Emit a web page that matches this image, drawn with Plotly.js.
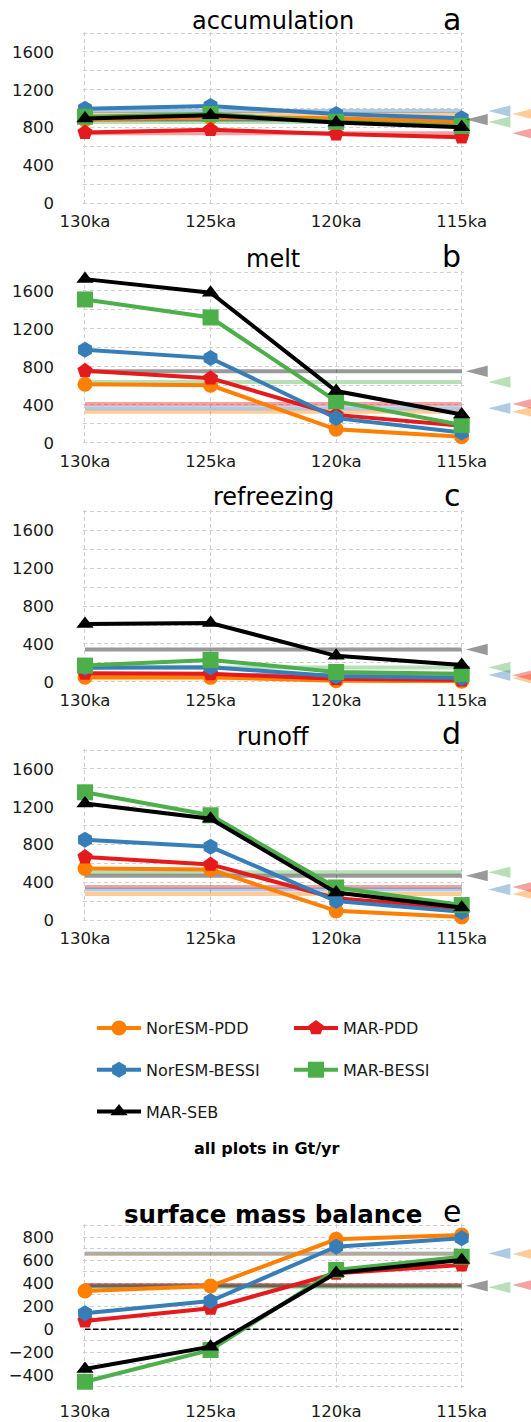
<!DOCTYPE html>
<html><head><meta charset="utf-8">
<script src="https://cdn.plot.ly/plotly-3.0.1.min.js"></script>
<style>html,body{margin:0;padding:0;background:#fff}</style>
</head><body><div id="chart" style="width:531px;height:1422px"></div>
<script>
// ---------------- data ----------------
const categories = ['130ka', '125ka', '120ka', '115ka'];
const modelNames = ['NorESM-PDD', 'MAR-PDD', 'NorESM-BESSI', 'MAR-BESSI', 'MAR-SEB'];
const panelTitles = ['accumulation', 'melt', 'refreezing', 'runoff', 'surface mass balance'];
const panelLetters = ['a', 'b', 'c', 'd', 'e'];
const unitNote = 'all plots in Gt/yr';

// rows follow modelNames order, columns follow categories
const accumulation = [
  [885, 910, 900, 855],
  [748, 779, 732, 700],
  [1000, 1028, 945, 900],
  [915, 945, 862, 818],
  [896, 932, 855, 805]
];
const accumulationRef = [945, 740, 975, 860, 885];

const melt = [
  [618, 607, 143, 64],
  [761, 682, 295, 180],
  [982, 893, 261, 110],
  [1511, 1321, 439, 189],
  [1725, 1582, 546, 300]
];
const meltRef = [328, 410, 365, 642, 755];

const refreezing = [
  [50, 48, 12, 8],
  [90, 85, 32, 20],
  [150, 155, 60, 40],
  [172, 232, 105, 85],
  [612, 622, 275, 178]
];
const refreezingRef = [38, 70, 72, 152, 342];

const runoff = [
  [548, 537, 100, 36],
  [669, 591, 233, 125],
  [852, 777, 204, 89],
  [1353, 1110, 347, 161],
  [1235, 1074, 293, 136]
];
const runoffRef = [279, 351, 326, 508, 472];

const smb = [
  [333, 376, 783, 820],
  [72, 183, 487, 559],
  [139, 246, 718, 791],
  [-456, -180, 516, 631],
  [-345, -151, 490, 603]
];
const smbRef = [655, 385, 660, 365, 378];

// ---------------- styles & layout geometry ----------------
const FONT = 'DejaVu Sans';
const W = 531, H = 1422;
const colors = ['#ff7f00', '#e41a1c', '#377eb8', '#4daf4a', '#000000'];
const refColors = ['rgba(255,127,0,0.4)', 'rgba(228,26,28,0.4)', 'rgba(55,126,184,0.4)', 'rgba(77,175,74,0.4)', 'rgba(0,0,0,0.4)'];
const symbols = ['circle', 'pentagon', 'hexagon', 'square', 'triangle-up'];
const msizes = [15, 16, 16, 16, 15];
const refMarkerSlot = [3.49, 3.49, 3.30, 3.30, 3.12]; // x position of the reference arrow heads
const legendOf = ['legend', 'legend2', 'legend', 'legend2', 'legend'];

const panelData = [accumulation, melt, refreezing, runoff, smb];
const panelRefs = [accumulationRef, meltRef, refreezingRef, runoffRef, smbRef];

// pixel geometry of each panel (top/bottom of grid) and y limits
const panelGeom = [
  {top: 33.0, bot: 203.4, ymin: 0, ymax: 1800, major: 400, minor: 200, xstand: 5, title: 21.4, letter: 19.3},
  {top: 272.0, bot: 442.9, ymin: 0, ymax: 1800, major: 400, minor: 200, xstand: 5, title: 258.9, letter: 256.8},
  {top: 511.3, bot: 681.9, ymin: 0, ymax: 1800, major: 400, minor: 200, xstand: 5, title: 496.5, letter: 495.0},
  {top: 750.0, bot: 920.3, ymin: 0, ymax: 1800, major: 400, minor: 200, xstand: 5, title: 737.4, letter: 733.5},
  {top: 1225.8, bot: 1386.8, ymin: -500, ymax: 900, major: 200, minor: 100, xstand: 11, title: 1214.6, letter: 1211.2}
];
const xLeftPx = 85, xRightPx = 461.7;
const nCat = categories.length;
const pxPerX = (xRightPx - xLeftPx) / (nCat - 1);
const xPad = 0.015;
const fx = p => p / W;
const fy = p => 1 - p / H;

const gridStyle = {showgrid: true, gridcolor: '#d0d0d0', gridwidth: 1, griddash: '4px,3px'};

const traces = [];
const layout = {
  width: W, height: H,
  margin: {l: 0, r: 0, t: 0, b: 0},
  paper_bgcolor: '#fff', plot_bgcolor: 'rgba(0,0,0,0)',
  font: {family: FONT, size: 16, color: '#1a1a1a'},
  showlegend: true,
  annotations: [],
  legend: {x: fx(92), xanchor: 'left', y: fy(1011), yanchor: 'top', orientation: 'v',
           font: {family: FONT, size: 16, color: '#1a1a1a'}, itemwidth: 44,
           traceorder: 'grouped', tracegroupgap: 18, bgcolor: 'rgba(0,0,0,0)'},
  legend2: {x: fx(289), xanchor: 'left', y: fy(1011), yanchor: 'top', orientation: 'v',
           font: {family: FONT, size: 16, color: '#1a1a1a'}, itemwidth: 44,
           traceorder: 'grouped', tracegroupgap: 18, bgcolor: 'rgba(0,0,0,0)'}
};

const xIdx = categories.map((c, i) => i);

panelGeom.forEach((g, p) => {
  const n = p + 1, t = p + 6;
  const xa = 'x' + (n === 1 ? '' : n), ya = 'y' + (n === 1 ? '' : n);
  const xt = 'x' + t, yt = 'y' + t;
  const s = (g.bot - g.top) / (g.ymax - g.ymin); // px per unit
  const yPad = 1.5 / s;
  const yDomain = [fy(g.bot + 1.5), fy(g.top - 1.5)];
  const yRange = [g.ymin - yPad, g.ymax + yPad];
  const xStartPx = xLeftPx - xPad * pxPerX;

  layout['xaxis' + (n === 1 ? '' : n)] = Object.assign({
    anchor: ya, domain: [fx(xStartPx), fx(xRightPx + xPad * pxPerX)],
    range: [-xPad, nCat - 1 + xPad], tickmode: 'array', tickvals: xIdx, ticktext: categories,
    zeroline: false, showline: false, ticks: '', ticklabelstandoff: g.xstand,
    tickfont: {family: FONT, size: 16.5, color: '#1a1a1a'}, fixedrange: true
  }, gridStyle);
  layout['yaxis' + (n === 1 ? '' : n)] = Object.assign({
    anchor: xa, domain: yDomain, range: yRange, tickmode: 'linear', tick0: 0, dtick: g.major,
    zeroline: false, showline: false, ticks: '', ticklabelstandoff: 28,
    tickfont: {family: FONT, size: 16.5, color: '#1a1a1a'}, fixedrange: true,
    minor: {tick0: 0, dtick: g.minor, showgrid: true, gridcolor: '#d0d0d0', gridwidth: 1, griddash: '4px,3px', ticks: ''}
  }, gridStyle);
  // axes for the reference arrow heads, which sit right of the plotting area
  layout['xaxis' + t] = {anchor: yt, domain: [fx(xStartPx), 1],
    range: [-xPad, -xPad + (W - xStartPx) / pxPerX], visible: false, showgrid: false, zeroline: false, fixedrange: true};
  layout['yaxis' + t] = {anchor: xt, domain: yDomain, range: yRange, visible: false, showgrid: false, zeroline: false, fixedrange: true};

  const data = panelData[p], refs = panelRefs[p];

  // reference lines
  refs.forEach((v, m) => {
    traces.push({type: 'scatter', mode: 'lines', xaxis: xa, yaxis: ya,
      x: [xIdx[0], xIdx[nCat - 1]], y: [v, v], line: {color: refColors[m], width: 4},
      showlegend: false, hoverinfo: 'skip'});
  });
  // reference arrow heads (flat left-pointing triangles)
  const hw = 11 / pxPerX, hh = 5.7 / s;
  refs.forEach((v, m) => {
    const c = refMarkerSlot[m];
    traces.push({type: 'scatter', mode: 'lines', xaxis: xt, yaxis: yt,
      x: [c - hw, c + hw, c + hw, c - hw], y: [v, v + hh, v - hh, v],
      fill: 'toself', fillcolor: refColors[m], line: {width: 0, color: refColors[m]},
      showlegend: false, hoverinfo: 'skip'});
  });
  // zero line for surface mass balance
  if (g.ymin < 0) {
    traces.push({type: 'scatter', mode: 'lines', xaxis: xa, yaxis: ya,
      x: [xIdx[0], xIdx[nCat - 1]], y: [0, 0], line: {color: '#000', width: 1.5, dash: '5.5px,2.5px'},
      showlegend: false, hoverinfo: 'skip'});
  }
  // model series
  data.forEach((vals, m) => {
    traces.push({type: 'scatter', mode: 'lines+markers', xaxis: xa, yaxis: ya,
      x: xIdx, y: vals, name: modelNames[m], cliponaxis: false,
      line: {color: colors[m], width: 4},
      marker: {symbol: symbols[m], size: msizes[m], color: colors[m], line: {width: 0}},
      showlegend: p === 0, legend: legendOf[m], legendgroup: 'g' + m, hoverinfo: 'skip'});
  });

  // panel title and letter
  layout.annotations.push({xref: 'paper', yref: 'paper', x: fx((xLeftPx + xRightPx) / 2), y: fy(g.title),
    xanchor: 'center', yanchor: 'middle', showarrow: false,
    text: p === 4 ? '<b>' + panelTitles[p] + '</b>' : panelTitles[p],
    font: {family: FONT, size: p === 4 ? 24.5 : 24, color: '#000'}});
  layout.annotations.push({xref: 'paper', yref: 'paper', x: fx(xRightPx + 1), y: fy(g.letter),
    xanchor: 'right', yanchor: 'middle', showarrow: false, text: panelLetters[p],
    font: {family: FONT, size: 30, color: '#000'}});
});

layout.annotations.push({xref: 'paper', yref: 'paper', x: fx(266.7), y: fy(1148),
  xanchor: 'center', yanchor: 'middle', showarrow: false, text: '<b>' + unitNote + '</b>',
  font: {family: FONT, size: 16, color: '#000'}});

Plotly.newPlot('chart', traces, layout, {staticPlot: true, displayModeBar: false});
</script>
</body></html>
